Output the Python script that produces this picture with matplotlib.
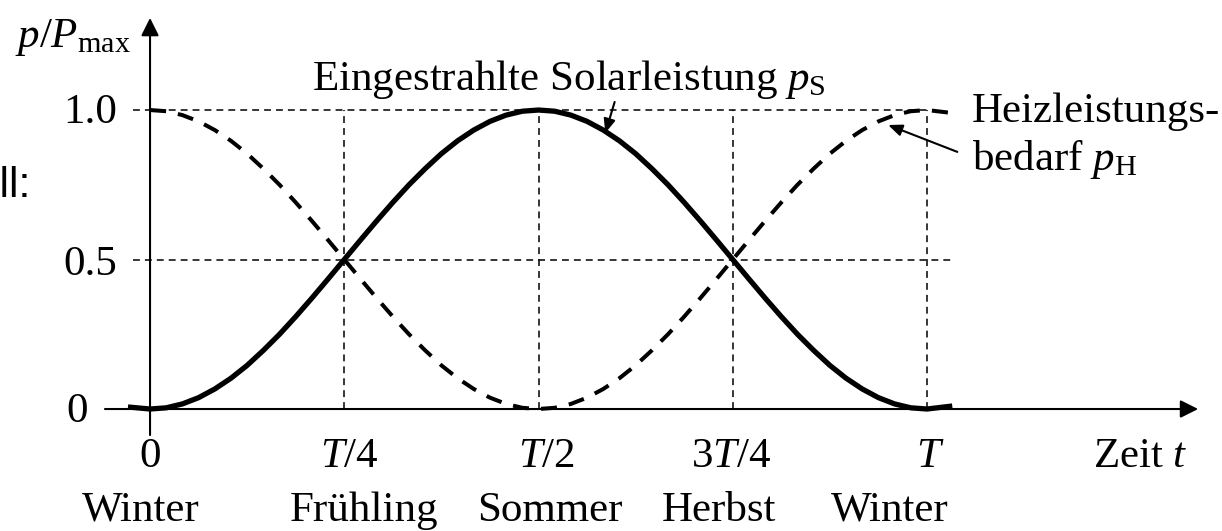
import numpy as np
import matplotlib.pyplot as plt

plt.rcParams['font.family'] = ['Liberation Serif', 'DejaVu Serif']
plt.rcParams['mathtext.fontset'] = 'custom'
plt.rcParams['mathtext.rm'] = 'Liberation Serif'
plt.rcParams['mathtext.it'] = 'Liberation Serif:italic'

# time in units of T/48
t48 = [-1.2, 0, 1, 2, 3, 4, 5, 6, 7, 8, 9, 10, 11, 12, 13, 14, 15, 16, 17, 18, 19, 20,
       21, 22, 23, 24, 25, 26, 27, 28, 29, 30, 31, 32, 33, 34, 35, 36, 37, 38, 39, 40,
       41, 42, 43, 44, 45, 46, 47, 48, 49.4]

# solar power p_S / P_max
solar = [0.006, 0, 0.004, 0.017, 0.038, 0.067, 0.103, 0.146, 0.196, 0.25, 0.309, 0.371,
         0.435, 0.5, 0.565, 0.629, 0.691, 0.75, 0.804, 0.854, 0.897, 0.933, 0.962, 0.983,
         0.996, 1.0, 0.996, 0.983, 0.962, 0.933, 0.897, 0.854, 0.804, 0.75, 0.691, 0.629,
         0.565, 0.5, 0.435, 0.371, 0.309, 0.25, 0.196, 0.146, 0.103, 0.067, 0.038, 0.017,
         0.004, 0, 0.009]

# heating demand p_H / P_max (starts at t = 0)
heat = [1.0, 0.996, 0.983, 0.962, 0.933, 0.897, 0.854, 0.804, 0.75, 0.691, 0.629, 0.565,
        0.5, 0.435, 0.371, 0.309, 0.25, 0.196, 0.146, 0.103, 0.067, 0.038, 0.017, 0.004,
        0, 0.004, 0.017, 0.038, 0.067, 0.103, 0.146, 0.196, 0.25, 0.309, 0.371, 0.435,
        0.5, 0.565, 0.629, 0.691, 0.75, 0.804, 0.854, 0.897, 0.933, 0.962, 0.983, 0.996,
        1.0, 0.991]

x_ticks = [0, 0.25, 0.5, 0.75, 1.0]
x_tick_labels = ['0', '$T/4$', '$T/2$', '$3T/4$', '$T$']
seasons = ['Winter', 'Frühling', 'Sommer', 'Herbst', 'Winter']
y_ticks = [0, 0.5, 1.0]
y_tick_labels = ['0', '0.5', '1.0']

t = np.array(t48) / 48

fig = plt.figure(figsize=(12.22, 5.31), dpi=100)
ax = fig.add_axes([0, 0, 1, 1])
ax.set_xlim(-0.1931, 1.3797)
ax.set_ylim(-0.408, 1.368)
ax.axis('off')

fs = 31
grid = dict(color='black', lw=1.1, ls=(0, (4.5, 3.3)))

# helper lines
ax.plot([-0.022, 1.0], [1.0, 1.0], **grid)
ax.plot([-0.022, 1.032], [0.5, 0.5], **grid)
for xv in x_ticks[1:]:
    ax.plot([xv, xv], [0, 1.0], **grid)

# axes with arrows
arr = dict(arrowstyle='-|>,head_length=0.6,head_width=0.3', lw=1.5, color='black',
           mutation_scale=18, shrinkA=0, shrinkB=0)
ax.annotate('', xy=(1.349, 0), xytext=(-0.058, 0), arrowprops=arr)
ax.annotate('', xy=(0, 1.308), xytext=(0, -0.087), arrowprops=arr)

# curves
ax.plot(t[1:], heat, color='black', lw=2.9, ls=(0, (4, 3)), zorder=3)
ax.plot(t, solar, color='black', lw=3.8, zorder=4)

# tick labels
ax.text(-0.0425, 0.957, y_tick_labels[2], fontsize=fs, ha='right', va='baseline')
ax.text(-0.0425, 0.448, y_tick_labels[1], fontsize=fs, ha='right', va='baseline')
ax.text(-0.080, -0.043, y_tick_labels[0], fontsize=fs, ha='right', va='baseline')

lab_x = [0, 0.257, 0.510, 0.748, 1.004]
for xv, lab in zip(lab_x, x_tick_labels):
    ax.text(xv, -0.194, lab, fontsize=fs, ha='center', va='baseline')
ax.text(1.214, -0.194, 'Zeit $t$', fontsize=fs, ha='left', va='baseline')

season_x = [-0.012, 0.275, 0.514, 0.732, 0.952]
for xv, lab in zip(season_x, seasons):
    ax.text(xv, -0.374, lab, fontsize=fs, ha='center', va='baseline')

ax.text(-0.174, 1.211, r'$p/P_{\mathrm{max}}$', fontsize=fs, ha='left', va='baseline')

# annotations
ax.text(0.208, 1.067, r'Eingestrahlte Solarleistung $p_{\mathrm{S}}$', fontsize=fs,
        ha='left', va='baseline')
ax.text(1.058, 0.960, 'Heizleistungs-', fontsize=fs, ha='left', va='baseline')
ax.text(1.058, 0.799, r'bedarf $p_{\mathrm{H}}$', fontsize=fs, ha='left', va='baseline')

thin = dict(arrowstyle='-|>,head_length=0.6,head_width=0.25', lw=1.5, color='black',
            mutation_scale=14, shrinkA=0, shrinkB=0)
ax.annotate('', xy=(0.586, 0.923), xytext=(0.598, 1.027), arrowprops=thin)
ax.annotate('', xy=(0.950, 0.950), xytext=(1.039, 0.860), arrowprops=thin)

ax.text(-0.154, 0.709, 'Modell:', fontsize=fs, ha='right', va='baseline',
        family='Liberation Sans')

fig.savefig('out.png', dpi=100)
